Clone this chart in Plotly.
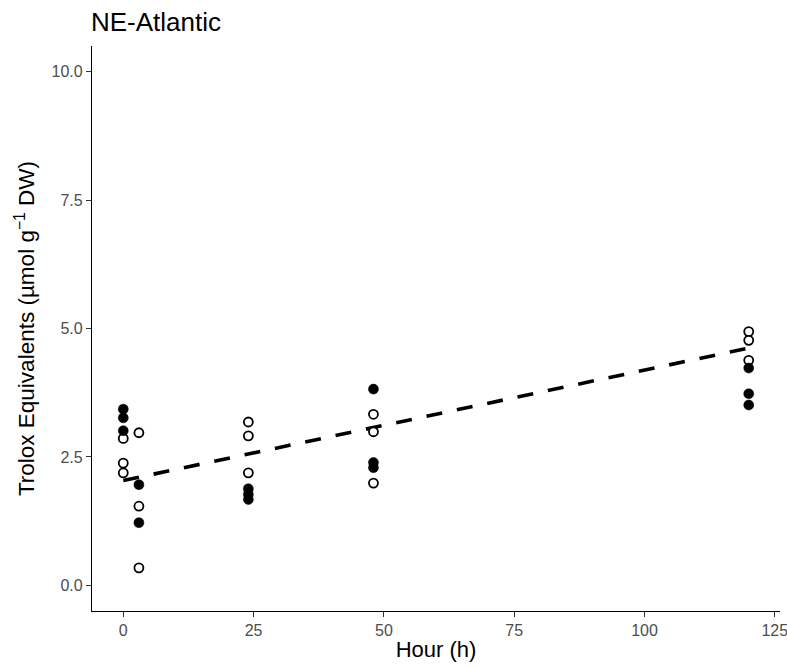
import plotly.graph_objects as go

# Sampling times (h) and Trolox equivalents for the two treatment groups
filled_hours = [0, 0, 0, 3, 3, 24, 24, 24, 48, 48, 48, 120, 120, 120]
filled_values = [3.43, 3.26, 3.01, 1.96, 1.22, 1.88, 1.77, 1.67, 3.82, 2.39, 2.29, 4.23, 3.73, 3.51]

open_hours = [0, 0, 0, 3, 3, 3, 24, 24, 24, 48, 48, 48, 120, 120, 120]
open_values = [2.86, 2.38, 2.19, 2.97, 1.54, 0.34, 3.18, 2.91, 2.19, 3.33, 2.99, 1.99, 4.94, 4.77, 4.38]

# Fitted trend across the sampling period
trend_hours = [0, 120]
trend_values = [2.04, 4.62]

x_ticks = [0, 25, 50, 75, 100, 125]
y_ticks = [0.0, 2.5, 5.0, 7.5, 10.0]

FONT = "Liberation Sans, Arial, sans-serif"

fig = go.Figure()

fig.add_trace(go.Scatter(
    x=trend_hours, y=trend_values, mode="lines",
    line=dict(color="black", width=3.6, dash="16px,15px"),
    hoverinfo="skip", showlegend=False,
))
fig.add_trace(go.Scatter(
    x=open_hours, y=open_values, mode="markers",
    marker=dict(symbol="circle", size=9, color="white",
                line=dict(color="black", width=1.8)),
    showlegend=False,
))
fig.add_trace(go.Scatter(
    x=filled_hours, y=filled_values, mode="markers",
    marker=dict(symbol="circle", size=10, color="black",
                line=dict(color="black", width=0.5)),
    showlegend=False,
))

axis_common = dict(
    showgrid=False, zeroline=False, showline=True, automargin=False,
    linecolor="black", linewidth=1.3, mirror=False,
    ticks="outside", ticklen=5, tickwidth=1.1, tickcolor="#333333",
    tickfont=dict(family=FONT, size=16, color="#4d4d4d"),
)

fig.update_xaxes(
    range=[-6, 126], tickvals=x_ticks, ticklabeloverflow="allow",
    title=dict(text="Hour (h)", standoff=3,
               font=dict(family=FONT, size=22, color="black")),
    **axis_common,
)
fig.update_yaxes(
    range=[-0.5, 10.5], tickvals=y_ticks, tickformat=".1f",
    title=dict(text="Trolox Equivalents (µmol g<sup>−1</sup> DW)", standoff=10,
               font=dict(family=FONT, size=22.5, color="black")),
    **axis_common,
)

fig.update_layout(
    width=787, height=666,
    margin=dict(l=92, r=7, t=46, b=55, autoexpand=False),
    plot_bgcolor="white", paper_bgcolor="white",
    title=dict(text="NE-Atlantic", x=91 / 787, xanchor="left",
               y=1 - 22 / 666, yanchor="middle", xref="container", yref="container",
               font=dict(family=FONT, size=26, color="black")),
)

fig.write_html("out.html")
